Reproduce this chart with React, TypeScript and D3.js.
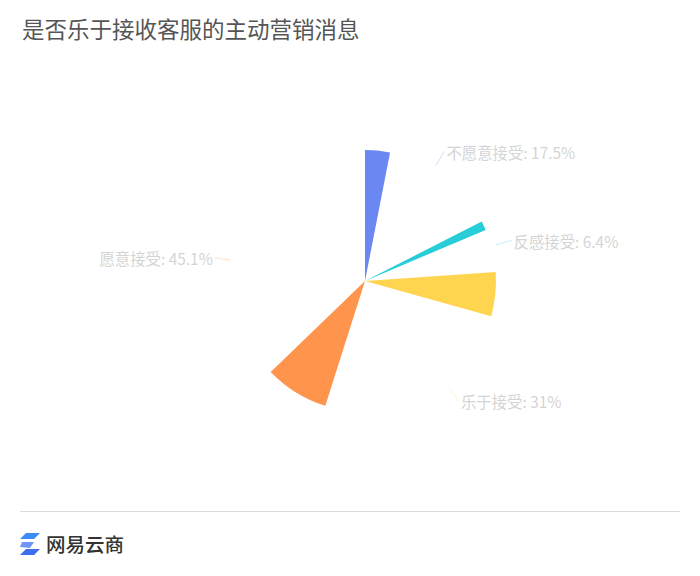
import React from "react";
import * as d3 from "d3";

const title = "是否乐于接收客服的主动营销消息";
const categories = ["不愿意接受", "反感接受", "乐于接受", "愿意接受"];
const values = [17.5, 6.4, 31, 45.1];
const labels = ["17.5%", "6.4%", "31%", "45.1%"];
const colors = ["#6a87f2", "#27cdd9", "#ffd54f", "#ff954c"];
const brand = "网易云商";

const W = 700;
const H = 576;
const cx = 365;
const cy = 281;
const R = 131;
const sweepShown = 0.175; // portion of each slice drawn (snapshot of the reveal)

export default function App() {
  const pie = d3.pie<number>().sort(null).value((d) => d)(values);
  const arc = d3.arc<any>().innerRadius(0).outerRadius(R);
  const font = "'Noto Sans CJK SC', 'Noto Sans', sans-serif";
  return (
    <svg width={W} height={H} style={{ position: "absolute", left: 0, top: 0, background: "#fff" }} fontFamily={font}>
      <text x={22} y={38} fontSize={22.5} fill="#555">{title}</text>
      <g transform={`translate(${cx},${cy})`}>
        {pie.map((p, i) => {
          const end = p.startAngle + (p.endAngle - p.startAngle) * sweepShown;
          return <path key={i} d={arc({ startAngle: p.startAngle, endAngle: end }) as string} fill={colors[i]} />;
        })}
        {pie.map((p, i) => {
          const mid = (p.startAngle + p.endAngle) / 2;
          const sx = Math.sin(mid), sy = -Math.cos(mid);
          const r1 = 136, r2 = 152;
          const x1 = sx * r1, y1 = sy * r1, x2 = sx * r2, y2 = sy * r2;
          const right = sx >= 0;
          return (
            <g key={"l" + i}>
              <line x1={x1} y1={y1} x2={x2} y2={y2} stroke={colors[i]} strokeOpacity={0.3} strokeWidth={1} />
              <text x={x2 + (right ? 2 : -2)} y={y2 + 0.5} fontSize={15.4} fill="#d4d4d4" textAnchor={right ? "start" : "end"} dominantBaseline="central">
                {categories[i] + ": " + labels[i]}
              </text>
            </g>
          );
        })}
      </g>
      <line x1={20} x2={680} y1={511.5} y2={511.5} stroke="#dcdcdc" strokeWidth={1} />
      <g transform="translate(20,533)">
        <path d="M6 0 L20 0 L14 6 L0 6 Z" fill="#3d8bf7" />
        <path d="M2 9 L14 9 L10 15 L0 14 Z" fill="#4b7cf5" opacity={0.8} />
        <path d="M6 16 L20 16 L14 22 L0 22 Z" fill="#3d6ef0" />
      </g>
      <text x={46} y={552} fontSize={19.5} fill="#333" fontWeight={500}>{brand}</text>
    </svg>
  );
}
